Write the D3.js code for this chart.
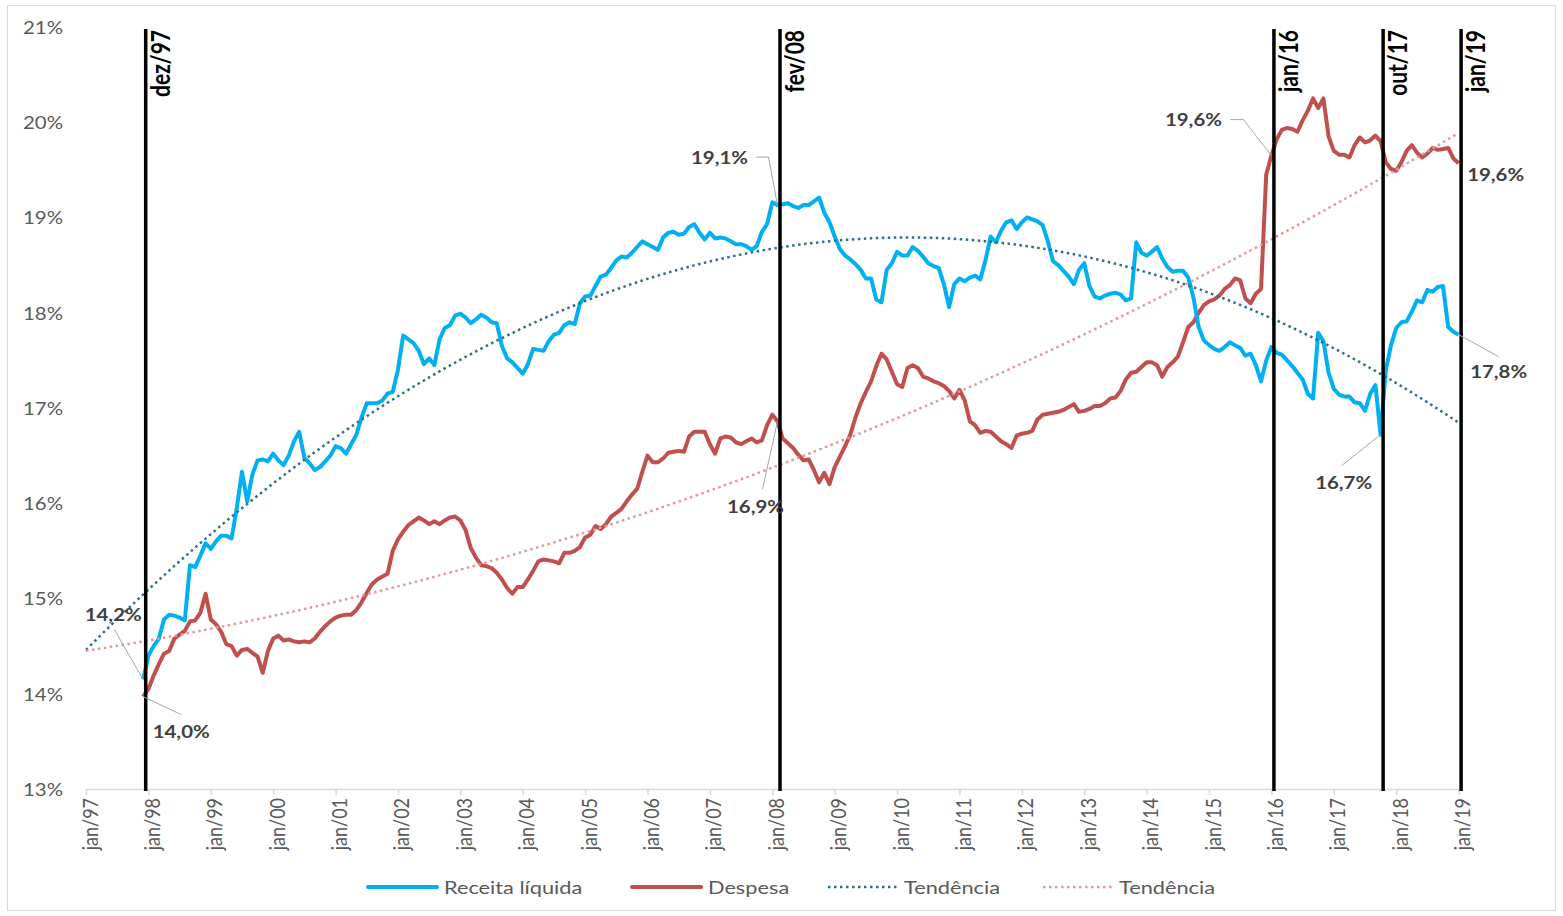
<!DOCTYPE html>
<html>
<head>
<meta charset="utf-8">
<script src="https://d3js.org/d3.v7.min.js"></script>
<style>
  body { margin: 0; background: #fff; }
  text { font-family: Lato, "Open Sans", sans-serif; }
</style>
</head>
<body>
<svg width="1563" height="916"></svg>
<script>
// meses contados a partir de jan/97 (0) ate jan/19 (264)
var lastMonth = 264;
var firstMonth = 11; // dez/97, primeiro mes com dado

var yearLabels = ["jan/97","jan/98","jan/99","jan/00","jan/01","jan/02","jan/03","jan/04",
  "jan/05","jan/06","jan/07","jan/08","jan/09","jan/10","jan/11","jan/12","jan/13",
  "jan/14","jan/15","jan/16","jan/17","jan/18","jan/19"];
var yTicks = [13, 14, 15, 16, 17, 18, 19, 20, 21];

// Receita liquida, % do PIB, dez/97 .. jan/19
var receita = [
  14.15,
  14.40,14.50,14.58,14.78,14.83,14.82,14.80,14.77,15.35,15.33,15.45,15.58,
  15.52,15.60,15.66,15.66,15.63,15.95,16.33,16.02,16.30,16.45,16.46,16.44,
  16.52,16.45,16.40,16.50,16.65,16.75,16.48,16.42,16.35,16.38,16.44,16.50,
  16.60,16.58,16.52,16.62,16.72,16.90,17.05,17.05,17.05,17.08,17.15,17.17,
  17.40,17.76,17.72,17.68,17.60,17.46,17.52,17.45,17.72,17.84,17.87,17.97,
  17.99,17.95,17.89,17.93,17.98,17.95,17.90,17.89,17.65,17.52,17.48,17.42,
  17.36,17.46,17.62,17.61,17.60,17.70,17.77,17.79,17.87,17.90,17.88,18.10,
  18.17,18.18,18.28,18.38,18.40,18.47,18.55,18.59,18.58,18.63,18.69,18.75,
  18.72,18.69,18.66,18.79,18.84,18.85,18.82,18.83,18.90,18.93,18.84,18.77,
  18.84,18.78,18.79,18.78,18.75,18.72,18.72,18.70,18.66,18.70,18.85,18.93,
  19.16,19.13,19.14,19.15,19.12,19.10,19.13,19.13,19.17,19.21,19.05,18.95,
  18.80,18.67,18.60,18.56,18.51,18.45,18.36,18.36,18.14,18.11,18.45,18.52,
  18.64,18.60,18.60,18.69,18.65,18.59,18.52,18.49,18.47,18.30,18.06,18.30,
  18.36,18.33,18.37,18.39,18.35,18.55,18.80,18.74,18.86,18.95,18.97,18.88,
  18.95,19.00,18.98,18.96,18.92,18.75,18.54,18.50,18.44,18.38,18.30,18.45,
  18.52,18.28,18.17,18.15,18.18,18.20,18.21,18.19,18.13,18.15,18.74,18.63,
  18.60,18.64,18.69,18.57,18.48,18.43,18.44,18.44,18.37,18.16,17.85,17.71,
  17.66,17.62,17.60,17.64,17.69,17.66,17.63,17.55,17.57,17.45,17.28,17.50,
  17.64,17.58,17.56,17.50,17.44,17.37,17.30,17.15,17.10,17.79,17.70,17.37,
  17.20,17.14,17.12,17.12,17.06,17.05,16.97,17.15,17.24,16.72,17.40,17.66,
  17.84,17.90,17.91,18.01,18.13,18.11,18.24,18.22,18.27,18.28,17.85,17.80,
  17.77
];

// Despesa, % do PIB, dez/97 .. jan/19
var despesa = [
  13.97,
  14.05,14.19,14.31,14.42,14.45,14.58,14.62,14.66,14.76,14.77,14.85,15.05,
  14.78,14.73,14.65,14.52,14.50,14.40,14.46,14.47,14.43,14.39,14.22,14.45,
  14.58,14.61,14.56,14.57,14.55,14.54,14.55,14.54,14.58,14.65,14.71,14.76,
  14.80,14.82,14.83,14.83,14.88,14.96,15.06,15.15,15.20,15.23,15.26,15.50,
  15.62,15.70,15.77,15.81,15.85,15.82,15.78,15.81,15.78,15.82,15.85,15.86,
  15.82,15.72,15.53,15.43,15.35,15.34,15.32,15.27,15.20,15.11,15.05,15.12,
  15.12,15.20,15.29,15.39,15.41,15.40,15.39,15.37,15.48,15.48,15.50,15.54,
  15.64,15.67,15.76,15.73,15.78,15.86,15.90,15.94,16.02,16.09,16.15,16.33,
  16.50,16.43,16.43,16.47,16.53,16.54,16.55,16.54,16.70,16.75,16.75,16.75,
  16.62,16.52,16.68,16.70,16.69,16.64,16.62,16.65,16.68,16.64,16.66,16.82,
  16.93,16.86,16.68,16.63,16.58,16.51,16.45,16.46,16.35,16.22,16.32,16.20,
  16.38,16.49,16.60,16.72,16.90,17.05,17.17,17.28,17.44,17.57,17.51,17.38,
  17.25,17.22,17.42,17.45,17.42,17.33,17.31,17.28,17.26,17.23,17.18,17.10,
  17.19,17.08,16.86,16.82,16.74,16.76,16.75,16.70,16.65,16.62,16.58,16.71,
  16.73,16.74,16.76,16.88,16.93,16.94,16.95,16.96,16.98,17.01,17.04,16.96,
  16.97,16.99,17.02,17.02,17.05,17.10,17.11,17.18,17.30,17.37,17.38,17.43,
  17.48,17.48,17.45,17.33,17.43,17.48,17.54,17.69,17.85,17.90,18.00,18.08,
  18.12,18.14,18.18,18.25,18.29,18.36,18.34,18.15,18.10,18.20,18.25,19.45,
  19.65,19.82,19.92,19.94,19.93,19.90,20.02,20.12,20.25,20.15,20.25,19.85,
  19.70,19.66,19.66,19.63,19.76,19.84,19.79,19.81,19.86,19.80,19.58,19.51,
  19.49,19.58,19.70,19.76,19.68,19.63,19.67,19.73,19.71,19.72,19.73,19.62,
  19.57
];

// linhas verticais de referencia
var marcoLabels = ["dez/97", "fev/08", "jan/16", "out/17", "jan/19"];
var marcoMonths = [11, 133, 228, 249, 264];

// rotulos de dados
var rotuloTexts  = ["14,2%", "14,0%", "19,1%", "16,9%", "19,6%", "19,6%", "17,8%", "16,7%"];
var rotuloSeries = ["receita", "despesa", "receita", "despesa", "despesa", "despesa", "receita", "receita"];
var rotuloMonths = [11, 11, 133, 133, 228, 264, 264, 249];

var legendNames = ["Receita líquida", "Despesa", "Tendência", "Tendência"];

// ---------------------------------------------------------------
var svg = d3.select("svg");
var x = d3.scaleLinear().domain([0, lastMonth]).range([86, 1458.6]);
var y = d3.scaleLinear().domain([13, 21]).range([789, 27]);

var colors = { receita: "#00B0F0", despesa: "#C0504D", trendR: "#2C6E8E", trendD: "#E4979B" };
var series = {
  receita: receita.map((v, i) => ({ m: firstMonth + i, v: v })),
  despesa: despesa.map((v, i) => ({ m: firstMonth + i, v: v }))
};

// texto levemente esticado na horizontal, como no original
function stretchAt(px, py, sx, rot) {
  return "translate(" + px + "," + py + ") scale(" + sx + ",1)" + (rot ? " rotate(" + rot + ")" : "");
}

svg.append("rect")
  .attr("x", 7.5).attr("y", 5.5).attr("width", 1548).attr("height", 905)
  .attr("fill", "#fff").attr("stroke", "#d9d9d9");

// eixo Y (somente rotulos)
svg.append("g").selectAll("text")
  .data(yTicks)
  .join("text")
  .attr("transform", d => stretchAt(63, y(d), 1.2))
  .attr("text-anchor", "end")
  .attr("dominant-baseline", "central")
  .attr("font-size", 17)
  .attr("fill", "#595959")
  .text(d => d + "%");

// eixo X
var xAxis = d3.axisBottom(x)
  .tickValues(d3.range(0, lastMonth + 1, 12))
  .tickFormat((d, i) => yearLabels[i])
  .tickSize(6)
  .tickSizeOuter(0);

var gx = svg.append("g").attr("transform", "translate(0,789)").call(xAxis);
gx.select(".domain").attr("stroke", "#d9d9d9").attr("stroke-width", 1.5);
gx.selectAll(".tick line").attr("stroke", "#d9d9d9").attr("stroke-width", 1.5);
gx.selectAll(".tick text")
  .attr("x", null).attr("y", null).attr("dy", null)
  .attr("transform", stretchAt(11, 9, 1.15, -90))
  .attr("text-anchor", "end")
  .attr("font-family", "Lato, sans-serif")
  .attr("font-size", 18)
  .attr("fill", "#595959");

// series
var line = d3.line().x(d => x(d.m)).y(d => y(d.v));
["despesa", "receita"].forEach(function (k) {
  svg.append("path")
    .datum(series[k])
    .attr("fill", "none")
    .attr("stroke", colors[k])
    .attr("stroke-width", 4)
    .attr("stroke-linejoin", "round")
    .attr("d", line);
});

// tendencia polinomial (minimos quadrados)
function polyFit(pts, deg) {
  var n = deg + 1, c = 138, s = 130;
  var A = d3.range(n).map(() => d3.range(n).map(() => 0)), b = d3.range(n).map(() => 0);
  pts.forEach(function (p) {
    var t = (p.m - c) / s, pw = d3.range(n).map(j => Math.pow(t, j));
    for (var j = 0; j < n; j++) {
      b[j] += pw[j] * p.v;
      for (var k = 0; k < n; k++) A[j][k] += pw[j] * pw[k];
    }
  });
  for (var i = 0; i < n; i++) {
    for (var r = i + 1; r < n; r++) {
      var f = A[r][i] / A[i][i];
      for (var k = i; k < n; k++) A[r][k] -= f * A[i][k];
      b[r] -= f * b[i];
    }
  }
  var coef = d3.range(n).map(() => 0);
  for (var i = n - 1; i >= 0; i--) {
    var sum = b[i];
    for (var k = i + 1; k < n; k++) sum -= A[i][k] * coef[k];
    coef[i] = sum / A[i][i];
  }
  return function (m) {
    var t = (m - c) / s;
    return coef.reduce((acc, cf, j) => acc + cf * Math.pow(t, j), 0);
  };
}

var months = d3.range(0, lastMonth + 1);
[["receita", colors.trendR], ["despesa", colors.trendD]].forEach(function (p) {
  var f = polyFit(series[p[0]], 2);
  svg.append("path")
    .datum(months.map(m => ({ m: m, v: f(m) })))
    .attr("fill", "none")
    .attr("stroke", p[1])
    .attr("stroke-width", 2.5)
    .attr("stroke-dasharray", "2.5,3.5")
    .attr("d", line);
});

// linhas verticais
var gm = svg.append("g");
marcoMonths.forEach(function (m, i) {
  var px = x(m) + 2.5;
  gm.append("line")
    .attr("x1", px).attr("x2", px)
    .attr("y1", 29).attr("y2", 791)
    .attr("stroke", "#000").attr("stroke-width", 3.5);
  gm.append("text")
    .attr("transform", stretchAt(px + 24, 30, 1.28, -90))
    .attr("text-anchor", "end")
    .attr("font-size", 21)
    .attr("font-weight", "bold")
    .attr("fill", "#000")
    .text(marcoLabels[i]);
});

// rotulos de dados: deslocamento do rotulo e da linha guia, em px
var rotuloOffsets = [
  { dx: -30, dy: -65, guide: [[-29, -50]] },
  { dx: 38,  dy: 35,  guide: [[38, 18]] },
  { dx: -58, dy: -48, guide: [[-9, -48], [-21, -48]] },
  { dx: -22, dy: 85,  guide: [[-15, 68]] },
  { dx: -78, dy: -36, guide: [[-28, -36], [-41, -36]] },
  { dx: 37,  dy: 11,  guide: [] },
  { dx: 40,  dy: 37,  guide: [[40, 22]] },
  { dx: -37, dy: 48,  guide: [[-39, 31]] }
];

var gl = svg.append("g");
rotuloTexts.forEach(function (t, i) {
  var arr = series[rotuloSeries[i]];
  var pt = arr.find(d => d.m === rotuloMonths[i]);
  var px = x(pt.m), py = y(pt.v), o = rotuloOffsets[i];
  if (o.guide.length) {
    var pts = [[px, py]].concat(o.guide.map(g => [px + g[0], py + g[1]]));
    gl.append("path")
      .attr("d", d3.line()(pts))
      .attr("fill", "none").attr("stroke", "#a6a6a6").attr("stroke-width", 1);
  }
  gl.append("text")
    .attr("transform", stretchAt(px + o.dx, py + o.dy, 1.2))
    .attr("text-anchor", "middle")
    .attr("dominant-baseline", "central")
    .attr("font-size", 17)
    .attr("font-weight", "bold")
    .attr("fill", "#404040")
    .text(t);
});

// legenda
var legendX = [368, 632, 828, 1043];
var legendStyle = [
  { c: colors.receita, w: 4, dash: null },
  { c: colors.despesa, w: 4, dash: null },
  { c: colors.trendR, w: 2.5, dash: "2.5,3.5" },
  { c: colors.trendD, w: 2.5, dash: "2.5,3.5" }
];
var leg = svg.append("g");
legendNames.forEach(function (name, i) {
  leg.append("line")
    .attr("x1", legendX[i]).attr("x2", legendX[i] + 69)
    .attr("y1", 887).attr("y2", 887)
    .attr("stroke", legendStyle[i].c)
    .attr("stroke-width", legendStyle[i].w)
    .attr("stroke-linecap", legendStyle[i].dash ? "butt" : "round")
    .attr("stroke-dasharray", legendStyle[i].dash);
  leg.append("text")
    .attr("transform", stretchAt(legendX[i] + 76, 887, 1.28))
    .attr("dominant-baseline", "central")
    .attr("font-size", 17)
    .attr("fill", "#595959")
    .text(name);
});
</script>
</body>
</html>
